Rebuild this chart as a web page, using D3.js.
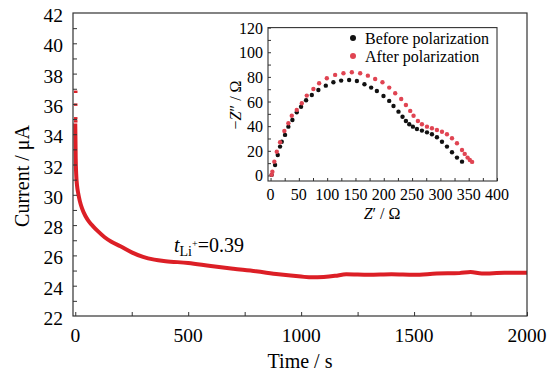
<!DOCTYPE html>
<html>
<head>
<meta charset="utf-8">
<script src="https://cdn.jsdelivr.net/npm/d3@7"></script>
<style>
  html, body { margin: 0; padding: 0; background: #fff; }
  svg { display: block; }
</style>
</head>
<body>
<div id="chart"></div>
<script>
// Main plot: current decay during polarization
const timeS = [0, 1, 2, 4, 8, 13, 20, 30, 45, 60, 80, 100, 130, 160, 200, 250, 300, 350, 400, 500,
  600, 700, 800, 900, 1000, 1050, 1100, 1150, 1200, 1300, 1400, 1500, 1600, 1700, 1750, 1800, 1900, 2000];
const currentUA = [34.7, 33.6, 32.4, 31.4, 30.6, 30.1, 29.6, 29.1, 28.6, 28.25, 27.9, 27.6, 27.2, 26.9, 26.6, 26.2, 25.9, 25.72, 25.62, 25.5,
  25.3, 25.12, 24.95, 24.75, 24.6, 24.55, 24.58, 24.65, 24.75, 24.72, 24.75, 24.72, 24.8, 24.83, 24.9, 24.8, 24.85, 24.85];
// isolated early points near t = 0
const spikeT = [1, 1, 1, 1];
const spikeI = [36.8, 35.95, 35.05, 34.85];

const xTicksMain = [0, 500, 1000, 1500, 2000];
const yTicksMain = [22, 24, 26, 28, 30, 32, 34, 36, 38, 40, 42];

// Inset: Nyquist plots
const beforeZre = [2, 8, 12.7, 16.8, 19.8, 25.6, 31.5, 38.6, 46.3, 53.9, 62.8, 72.9, 84.5, 97.6, 111, 124.7, 138.8, 152.5, 165.9,
  177.7, 187.8, 199.5, 209.6, 217.2, 226, 233.1, 239.1, 245, 251.5, 258.6, 267.4, 276.3, 285.1, 293.9, 302.8, 311.6, 320.5, 329.3, 338.2];
const beforeZim = [0.5, 8.5, 16.6, 23.4, 27.4, 32.9, 39.6, 45, 51.3, 55.8, 61, 65.3, 69.4, 72.9, 75.6, 77, 77.5, 76.7, 74,
  71.3, 68.6, 64.5, 60.5, 56.4, 51.8, 47.7, 44.2, 41.6, 39.6, 37.7, 36.4, 35, 33.4, 31, 27.4, 23.4, 18.8, 14.5, 11.2];
const afterZre = [2, 3.2, 6.7, 11, 16.8, 24.4, 31.5, 37.5, 46.3, 55.2, 64, 75.7, 85.8, 99.4, 114.1, 128.8, 143.6, 158.3, 171.9,
  184.8, 197.7, 209.6, 220.2, 230.8, 239.1, 246.7, 252.6, 260.3, 267.4, 276.3, 285.1, 293.9, 302.8, 311.6, 320.5, 329.3, 338.2,
  343, 348, 352, 356];
const afterZim = [0.5, 3.1, 11.2, 19.3, 26.9, 36.1, 42.4, 48.5, 53.2, 58.6, 64.8, 70.2, 74.8, 78.9, 81.6, 82.9, 83.8, 82.9, 81,
  78.3, 75.6, 71.3, 66.7, 62.1, 57.2, 52.4, 48.5, 44.2, 41.6, 39.6, 38.3, 36.9, 35.5, 33.4, 30.2, 26.1, 20.7,
  17.5, 14.5, 12.5, 11];
const xTicksInset = [0, 50, 100, 150, 200, 250, 300, 350, 400];
const yTicksInset = [0, 20, 40, 60, 80, 100, 120];

const W = 553, H = 374;
const SERIF = "'Liberation Serif', 'Times New Roman', serif";
const RED = "#dc1f26";
const INSET_RED = "#e04452";
const FRAME = "#333";

const svg = d3.select("#chart").append("svg")
  .attr("width", W).attr("height", H)
  .attr("viewBox", `0 0 ${W} ${H}`);

// ---------- main plot ----------
const x = d3.scaleLinear().domain([-10, 2000]).range([73, 527]);
const y = d3.scaleLinear().domain([22, 42]).range([316, 13]);

const line = d3.line().x(d => x(d[0])).y(d => y(d[1])).curve(d3.curveMonotoneX);
svg.append("path")
  .datum(timeS.map((t, i) => [t, currentUA[i]]))
  .attr("d", line)
  .attr("fill", "none")
  .attr("stroke", RED)
  .attr("stroke-width", 4)
  .attr("stroke-linejoin", "round");

svg.selectAll(".spike")
  .data(spikeT.map((t, i) => [t, spikeI[i]]))
  .join("rect")
    .attr("x", d => x(d[0]) - 1.5)
    .attr("y", d => y(d[1]) - 1.2)
    .attr("width", 3.5).attr("height", 2.4)
    .attr("fill", RED);

// frame
svg.append("rect")
  .attr("x", x.range()[0]).attr("y", y.range()[1])
  .attr("width", x.range()[1] - x.range()[0])
  .attr("height", y.range()[0] - y.range()[1])
  .attr("fill", "none").attr("stroke", FRAME).attr("stroke-width", 1.2);

// inner ticks
const xAxisMain = svg.append("g")
  .attr("transform", `translate(0,${y.range()[0]})`)
  .call(d3.axisBottom(x).tickValues(d3.range(0, 2001, 250)).tickSize(-4).tickFormat(""));
xAxisMain.select(".domain").remove();
xAxisMain.selectAll(".tick line").attr("stroke", FRAME);

const yAxisMain = svg.append("g")
  .attr("transform", `translate(${x.range()[0]},0)`)
  .call(d3.axisLeft(y).tickValues(d3.range(23, 42, 1)).tickSize(-4).tickFormat(""));
yAxisMain.select(".domain").remove();
yAxisMain.selectAll(".tick line").attr("stroke", FRAME);

// tick labels
svg.append("g").selectAll("text")
  .data(xTicksMain).join("text")
    .attr("x", d => x(d)).attr("y", 342)
    .attr("text-anchor", "middle")
    .attr("font-family", SERIF).attr("font-size", 19.5)
    .text(d => d);

svg.append("g").selectAll("text")
  .data(yTicksMain).join("text")
    .attr("x", 63).attr("y", d => y(d) + 9)
    .attr("text-anchor", "end")
    .attr("font-family", SERIF).attr("font-size", 19.5)
    .text(d => d);

// axis titles
svg.append("text")
  .attr("x", 300).attr("y", 368)
  .attr("text-anchor", "middle")
  .attr("font-family", SERIF).attr("font-size", 20)
  .text("Time / s");

svg.append("text")
  .attr("transform", `translate(29,176) rotate(-90)`)
  .attr("text-anchor", "middle")
  .attr("font-family", SERIF).attr("font-size", 20)
  .text("Current / μA");

// annotation
const ann = svg.append("text")
  .attr("x", 174).attr("y", 252)
  .attr("font-family", SERIF).attr("font-size", 20);
ann.append("tspan").attr("font-style", "italic").text("t");
ann.append("tspan").attr("font-size", 14).attr("dy", 4).text("Li");
ann.append("tspan").attr("font-size", 10).attr("dy", -9).text("+");
ann.append("tspan").attr("dy", 5).text("=0.39");

// ---------- inset ----------
const ix = d3.scaleLinear().domain([-4.5, 400]).range([268, 497]);
const iy = d3.scaleLinear().domain([-4.5, 120]).range([181, 27.6]);

svg.append("rect")
  .attr("x", ix.range()[0]).attr("y", iy.range()[1])
  .attr("width", ix.range()[1] - ix.range()[0])
  .attr("height", iy.range()[0] - iy.range()[1])
  .attr("fill", "#fff").attr("stroke", FRAME).attr("stroke-width", 1.1);

const xAxisIn = svg.append("g")
  .attr("transform", `translate(0,${iy.range()[0]})`)
  .call(d3.axisBottom(ix).tickValues(d3.range(0, 401, 25)).tickSize(-3).tickFormat(""));
xAxisIn.select(".domain").remove();
xAxisIn.selectAll(".tick line").attr("stroke", FRAME);

const yAxisIn = svg.append("g")
  .attr("transform", `translate(${ix.range()[0]},0)`)
  .call(d3.axisLeft(iy).tickValues(d3.range(0, 121, 10)).tickSize(-3).tickFormat(""));
yAxisIn.select(".domain").remove();
yAxisIn.selectAll(".tick line").attr("stroke", FRAME);

svg.append("g").selectAll("text")
  .data(xTicksInset).join("text")
    .attr("x", d => ix(d)).attr("y", 200)
    .attr("text-anchor", "middle")
    .attr("font-family", SERIF).attr("font-size", 16)
    .text(d => d);

svg.append("g").selectAll("text")
  .data(yTicksInset).join("text")
    .attr("x", 263).attr("y", d => iy(d) + 6)
    .attr("text-anchor", "end")
    .attr("font-family", SERIF).attr("font-size", 16)
    .text(d => d);

const ixl = svg.append("text")
  .attr("x", 382).attr("y", 219)
  .attr("text-anchor", "middle")
  .attr("font-family", SERIF).attr("font-size", 16);
ixl.append("tspan").attr("font-style", "italic").text("Z");
ixl.append("tspan").text("′ / Ω");

const iyl = svg.append("text")
  .attr("transform", `translate(241,105) rotate(-90)`)
  .attr("text-anchor", "middle")
  .attr("font-family", SERIF).attr("font-size", 16);
iyl.append("tspan").text("−");
iyl.append("tspan").attr("font-style", "italic").text("Z");
iyl.append("tspan").text("″ / Ω");

svg.append("g").selectAll("circle")
  .data(beforeZre.map((v, i) => [v, beforeZim[i]]))
  .join("circle")
    .attr("cx", d => ix(d[0])).attr("cy", d => iy(d[1]))
    .attr("r", 2.2).attr("fill", "#111");

svg.append("g").selectAll("circle")
  .data(afterZre.map((v, i) => [v, afterZim[i]]))
  .join("circle")
    .attr("cx", d => ix(d[0])).attr("cy", d => iy(d[1]))
    .attr("r", 2.2).attr("fill", INSET_RED);

// legend
const legend = [
  { label: "Before polarization", color: "#111" },
  { label: "After polarization", color: INSET_RED },
];
legend.forEach((l, i) => {
  svg.append("circle")
    .attr("cx", 353).attr("cy", 38 + i * 18).attr("r", 3)
    .attr("fill", l.color);
  svg.append("text")
    .attr("x", 365).attr("y", 43.5 + i * 18)
    .attr("font-family", SERIF).attr("font-size", 16)
    .text(l.label);
});
</script>
</body>
</html>
